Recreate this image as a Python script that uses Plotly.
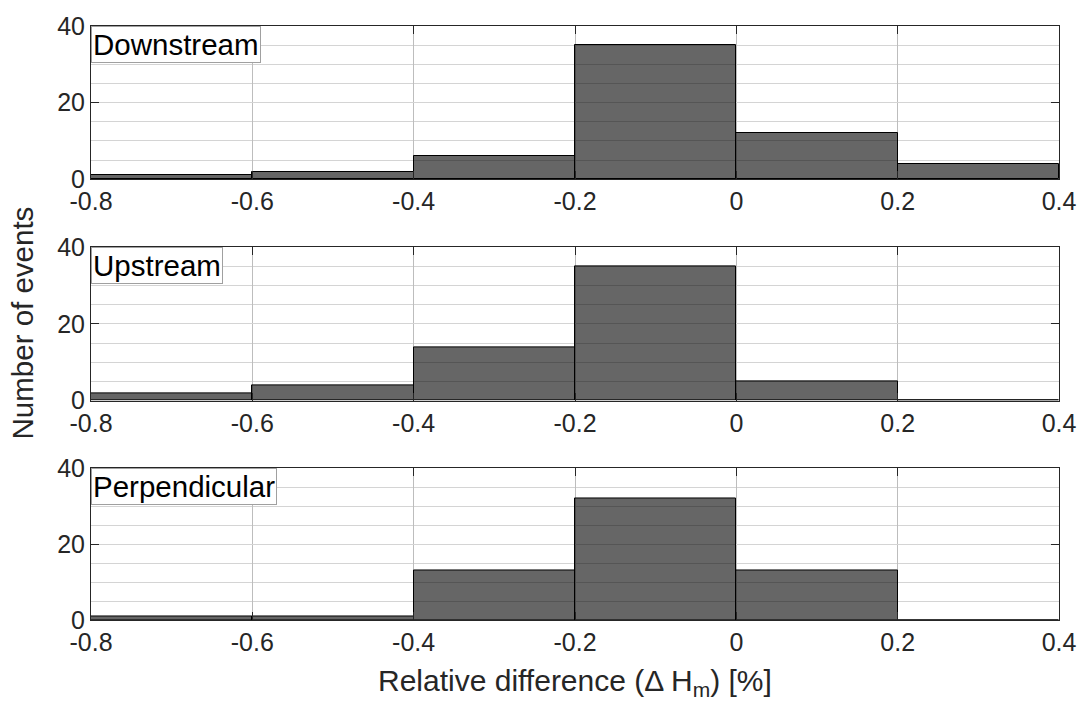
import plotly.graph_objects as go

# Histogram bin edges and counts per station orientation
bin_edges = [-0.8, -0.6, -0.4, -0.2, 0.0, 0.2, 0.4]
panel_names = ["Downstream", "Upstream", "Perpendicular"]
downstream_counts = [1, 2, 6, 35, 12, 4]
upstream_counts = [2, 4, 14, 35, 5, 0]
perpendicular_counts = [1, 1, 13, 32, 13, 0]

x_tick_vals = [-0.8, -0.6, -0.4, -0.2, 0.0, 0.2, 0.4]
x_tick_text = ["-0.8", "-0.6", "-0.4", "-0.2", "0", "0.2", "0.4"]
y_tick_vals = [0, 20, 40]
y_tick_text = ["0", "20", "40"]

series = [downstream_counts, upstream_counts, perpendicular_counts]

FONT = "Liberation Sans, Arial, Helvetica, sans-serif"
AXIS_COLOR = "#262626"

# vertical domains of the three stacked panels (top to bottom)
domains = [(0.7421, 1.0), (0.3694, 0.6273), (0.0, 0.2551)]

centers = [(a + b) / 2 for a, b in zip(bin_edges[:-1], bin_edges[1:])]
widths = [b - a for a, b in zip(bin_edges[:-1], bin_edges[1:])]

fig = go.Figure()
layout = {}
for i, (name, counts) in enumerate(zip(panel_names, series)):
    n = "" if i == 0 else str(i + 1)
    fig.add_trace(go.Bar(
        x=centers, y=counts, width=widths,
        xaxis="x" + n, yaxis="y" + n,
        marker=dict(color="rgba(0,0,0,0.6)", line=dict(color="black", width=1)),
        showlegend=False, hoverinfo="x+y",
    ))
    layout["xaxis" + n] = dict(
        domain=[0, 1], anchor="y" + n, range=[bin_edges[0], bin_edges[-1]],
        tickvals=x_tick_vals, ticktext=x_tick_text,
        showgrid=True, gridcolor="#bdbdbd", gridwidth=1,
        showline=True, linecolor=AXIS_COLOR, linewidth=1, mirror="allticks",
        ticks="inside", ticklen=8, tickcolor=AXIS_COLOR,
        tickfont=dict(family=FONT, size=25, color=AXIS_COLOR),
        zeroline=False,
    )
    layout["yaxis" + n] = dict(
        domain=list(domains[i]), anchor="x" + n, range=[0, 40],
        tickvals=y_tick_vals, ticktext=y_tick_text,
        showgrid=True, gridcolor="#d4d4d4", gridwidth=1,
        minor=dict(dtick=5, showgrid=True, gridcolor="#d4d4d4", gridwidth=1, ticks=""),
        showline=True, linecolor=AXIS_COLOR, linewidth=1, mirror="allticks",
        ticks="inside", ticklen=8, tickcolor=AXIS_COLOR,
        tickfont=dict(family=FONT, size=25, color=AXIS_COLOR),
        zeroline=False,
    )
    fig.add_annotation(
        text=name, xref="x" + n + " domain", yref="y" + n + " domain",
        x=0, y=1, xanchor="left", yanchor="top", showarrow=False,
        font=dict(family=FONT, size=29.5, color="black"),
        bgcolor="white", bordercolor="#a0a0a0", borderwidth=1, borderpad=1,
    )

fig.add_annotation(
    text="Number of events", xref="paper", yref="paper",
    x=-0.0708, y=0.5, xanchor="center", yanchor="middle", textangle=-90,
    showarrow=False, font=dict(family=FONT, size=29.5, color=AXIS_COLOR),
)
fig.add_annotation(
    text="Relative difference (\u0394 H<sub>m</sub>) [%]", xref="paper", yref="paper",
    x=0.5, y=-0.106, xanchor="center", yanchor="middle",
    showarrow=False, font=dict(family=FONT, size=30, color=AXIS_COLOR),
)

fig.update_layout(
    width=1088, height=704,
    margin=dict(l=91, r=23, t=19, b=84),
    paper_bgcolor="white", plot_bgcolor="white",
    bargap=0, **layout,
)

fig.write_html("out.html")
